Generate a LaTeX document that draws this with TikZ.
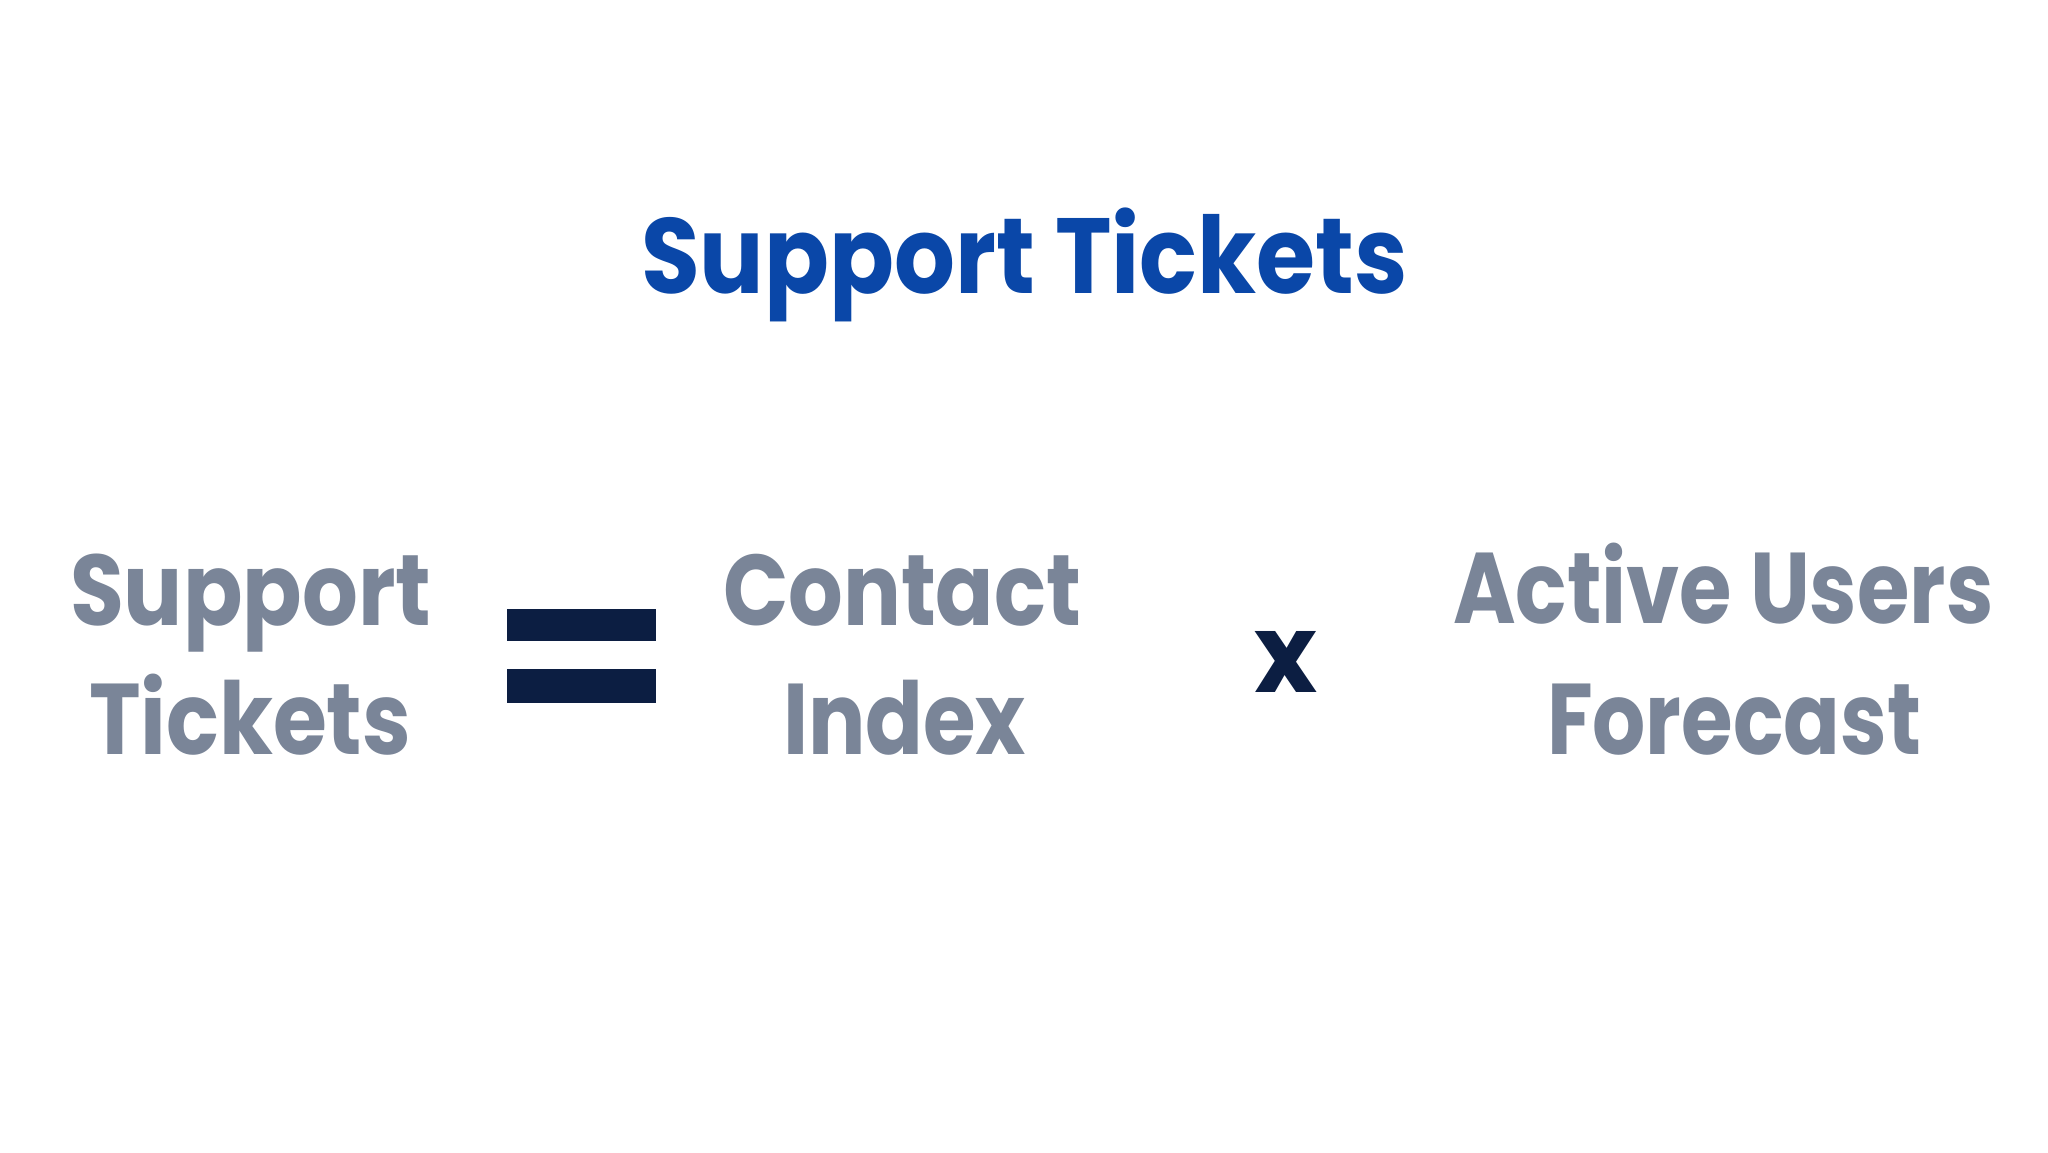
\documentclass[tikz,border=0pt]{standalone}
\usepackage{fontspec}
\setmainfont{Poppins}[Ligatures=NoCommon]
\usepackage{graphicx}
\definecolor{titleblue}{HTML}{0A47A8}
\definecolor{wordgray}{HTML}{7A8598}
\definecolor{opdark}{HTML}{0C1E42}
\newcommand{\fitword}[3]{\resizebox{#1pt}{#2pt}{\bfseries\smash{#3}\vphantom{H}}}
\begin{document}
\begin{tikzpicture}[x=1pt,y=-1pt,
  word/.style={inner sep=0pt, outer sep=0pt, anchor=base west, text=wordgray},
  opbar/.style={fill=opdark, draw=none}]
\useasboundingbox[fill=white] (0,0) rectangle (2048,1152);
\node[word, text=titleblue] (title) at (641,293) {\fitword{767}{75}{Support Tickets}};
\node[word] (lhsa) at (70,625) {\fitword{361}{70.5}{Support}};
\node[word] (lhsb) at (89,754) {\fitword{322}{70.5}{Tickets}};
\fill[opbar] (507,609) rectangle (656,641);
\fill[opbar] (507,669) rectangle (656,703);
\node[word] (contact) at (723,625) {\fitword{358}{70.5}{Contact}};
\node[word] (index) at (783,754) {\fitword{243}{70.5}{Index}};
\node[word, text=opdark] (times) at (1254,692) {\resizebox{63pt}{61pt}{\bfseries x}};
\node[word] (active) at (1453,623) {\fitword{540}{70.5}{Active Users}};
\node[word] (forecast) at (1547,754) {\fitword{374}{70.5}{Forecast}};
\end{tikzpicture}
\end{document}
